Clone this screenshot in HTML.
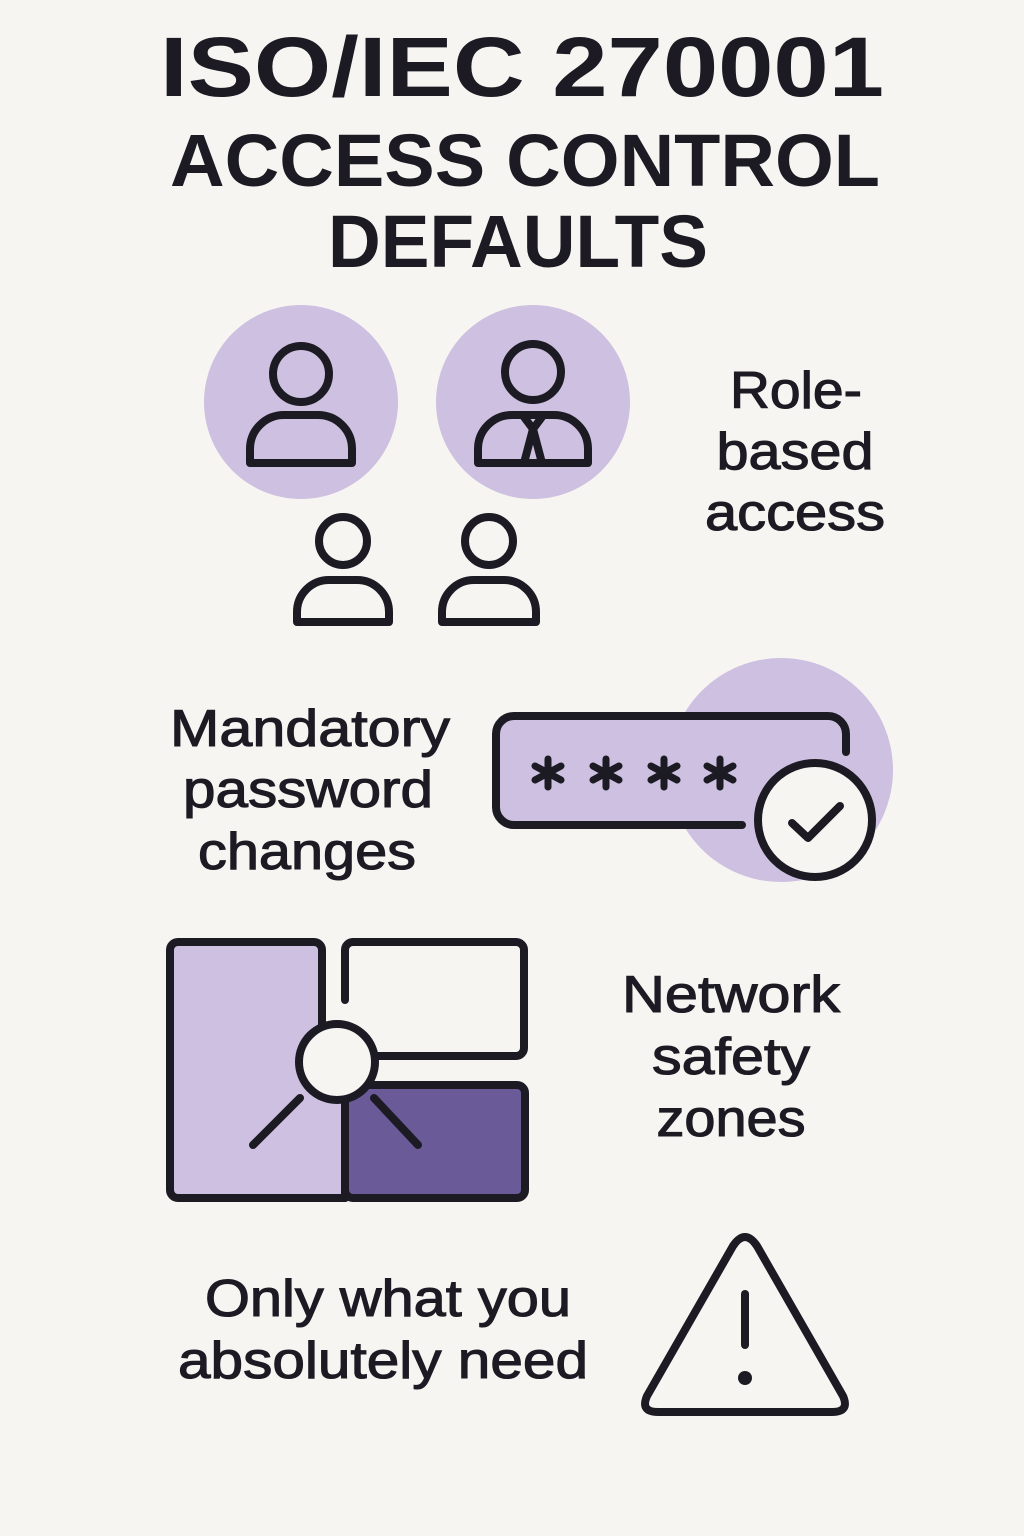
<!DOCTYPE html>
<html><head><meta charset="utf-8"><style>
html,body{margin:0;padding:0;background:#f7f5f2;}
svg{display:block}
text{font-family:"Liberation Sans",sans-serif;fill:#1c1a22;text-anchor:middle}
.t{font-weight:bold}
.l{font-size:52px;stroke:#1c1a22;stroke-width:1.1}
</style></head><body>
<svg width="1024" height="1536" viewBox="0 0 1024 1536" xmlns="http://www.w3.org/2000/svg">
<rect width="1024" height="1536" fill="#f7f5f2"/>
<text class="t" x="522" y="96" font-size="84" textLength="724" lengthAdjust="spacingAndGlyphs">ISO/IEC 270001</text>
<text class="t" x="525" y="186" font-size="74" textLength="710" lengthAdjust="spacingAndGlyphs">ACCESS CONTROL</text>
<text class="t" x="518" y="267" font-size="74" textLength="380" lengthAdjust="spacingAndGlyphs">DEFAULTS</text>

<g fill="none" stroke="#1c1a22" stroke-width="8" stroke-linejoin="round" stroke-linecap="round">
<circle cx="301" cy="402" r="97" fill="#cdc0e0" stroke="none"/>
<circle cx="533" cy="402" r="97" fill="#cdc0e0" stroke="none"/>
<circle cx="301" cy="374" r="28"/>
<path d="M250 463 v-14 a34 34 0 0 1 34-34 h34 a34 34 0 0 1 34 34 v14 z"/>
<circle cx="533" cy="372" r="28"/>
<path d="M478 463 v-14 a34 34 0 0 1 34-34 h42 a34 34 0 0 1 34 34 v14 z"/>
<path d="M524 417 l9 12 l9 -12 M533 429 l-9 34 M533 429 l9 34"/>
<circle cx="343" cy="541" r="24"/>
<path d="M297 622 v-10 a32 32 0 0 1 32-32 h28 a32 32 0 0 1 32 32 v10 z"/>
<circle cx="489" cy="541" r="24"/>
<path d="M442 622 v-10 a32 32 0 0 1 32-32 h30 a32 32 0 0 1 32 32 v10 z"/>
</g>
<text class="l" x="796" y="408" textLength="132" lengthAdjust="spacingAndGlyphs">Role-</text>
<text class="l" x="795" y="469" textLength="157" lengthAdjust="spacingAndGlyphs">based</text>
<text class="l" x="795" y="530" textLength="180" lengthAdjust="spacingAndGlyphs">access</text>

<text class="l" x="310" y="746" textLength="280" lengthAdjust="spacingAndGlyphs">Mandatory</text>
<text class="l" x="308" y="807" textLength="250" lengthAdjust="spacingAndGlyphs">password</text>
<text class="l" x="307" y="869" textLength="218" lengthAdjust="spacingAndGlyphs">changes</text>
<g stroke="#1c1a22" stroke-width="8" stroke-linejoin="round" stroke-linecap="round">
<circle cx="781" cy="770" r="112" fill="#cdc0e0" stroke="none"/>
<path d="M742 825 H514 a18 18 0 0 1 -18-18 V734 a18 18 0 0 1 18-18 H828 a18 18 0 0 1 18 18 V752" fill="#cdc0e0"/>
<circle cx="815" cy="820" r="57" fill="#f7f5f2"/>
<path d="M792 823 L808 838 L840 806" fill="none"/>
</g>
<g stroke="#1c1a22" stroke-width="7" stroke-linecap="round">
<path d="M548 759v28M535 766l26 14M535 780l26-14"/>
<path d="M606 759v28M593 766l26 14M593 780l26-14"/>
<path d="M664 759v28M651 766l26 14M651 780l26-14"/>
<path d="M720 759v28M707 766l26 14M707 780l26-14"/>
</g>

<g stroke="#1c1a22" stroke-width="8" stroke-linejoin="round" stroke-linecap="round">
<path d="M170 942 H322 V1060 H345 V1198 H170 Z" fill="#cdc0e0" stroke="none"/>
<path d="M345 1198 H178 a8 8 0 0 1 -8-8 V950 a8 8 0 0 1 8-8 H314 a8 8 0 0 1 8 8 V1060" fill="none"/>
<rect x="345" y="1085" width="180" height="113" rx="8" fill="#6a5a98"/>
<path d="M345 1000 V950 a8 8 0 0 1 8-8 H516 a8 8 0 0 1 8 8 V1048 a8 8 0 0 1 -8 8 H372" fill="#f7f5f2"/>
<line x1="345" y1="1100" x2="345" y2="1198"/>
<line x1="300" y1="1098" x2="253" y2="1145"/>
<line x1="374" y1="1098" x2="418" y2="1145"/>
<circle cx="337" cy="1062" r="38" fill="#f7f5f2"/>
</g>
<text class="l" x="731" y="1012" textLength="218" lengthAdjust="spacingAndGlyphs">Network</text>
<text class="l" x="731" y="1074" textLength="158" lengthAdjust="spacingAndGlyphs">safety</text>
<text class="l" x="731" y="1136" textLength="149" lengthAdjust="spacingAndGlyphs">zones</text>

<text class="l" x="388" y="1316" textLength="366" lengthAdjust="spacingAndGlyphs">Only what you</text>
<text class="l" x="383" y="1378" textLength="410" lengthAdjust="spacingAndGlyphs">absolutely need</text>
<g stroke="#1c1a22" stroke-width="8" stroke-linejoin="round" stroke-linecap="round" fill="none">
<path d="M733 1246 Q745 1228 757 1246 L843 1396 Q850 1412 832 1412 H658 Q640 1412 647 1396 Z"/>
<line x1="745" y1="1294" x2="745" y2="1345"/>
</g>
<circle cx="745" cy="1378" r="7" fill="#1c1a22"/>
</svg>
</body></html>
